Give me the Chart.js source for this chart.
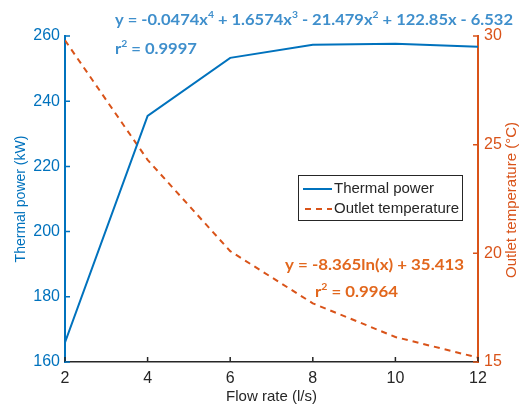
<!DOCTYPE html>
<html>
<head>
<meta charset="utf-8">
<script src="https://cdn.jsdelivr.net/npm/chart.js@4.4.0/dist/chart.umd.min.js"></script>
<style>
  html, body { margin: 0; padding: 0; background: #fff; }
  #wrap { width: 522px; height: 406px; }
</style>
</head>
<body>
<div id="wrap"><canvas id="chart"></canvas></div>
<script>
const flowRate = [2, 4, 6, 8, 10, 12];
const thermalPower = [166, 235.5, 253.3, 257.3, 257.6, 256.7];
const outletTemp = [29.8, 24.3, 20.1, 17.7, 16.15, 15.2];
const powerTicks = [160, 180, 200, 220, 240, 260];
const tempTicks = [15, 20, 25, 30];
const flowTicks = [2, 4, 6, 8, 10, 12];

const BLUE = '#0072BD';
const ORANGE = '#D95319';
const DARK = '#262626';

// fit equations shown on the figure: [text, isSuperscript]
const powerFit = [['y = -0.0474x'], ['4', 1], [' + 1.6574x'], ['3', 1], [' - 21.479x'], ['2', 1], [' + 122.85x - 6.532']];
const powerR2 = [['r'], ['2', 1], [' = 0.9997']];
const tempFit = [['y = -8.365ln(x) + 35.413']];
const tempR2 = [['r'], ['2', 1], [' = 0.9964']];

const toPoints = (xs, ys) => xs.map((x, i) => ({ x, y: ys[i] }));

// draws text with superscripts, squeezed/stretched to a given width
const drawRich = (ctx, parts, x, y, size, color, width) => {
  const bigFont = `bold ${size}px Lato, "Open Sans", sans-serif`;
  const smallFont = `bold ${Math.round(size * 0.62)}px Lato, "Open Sans", sans-serif`;
  let total = 0;
  parts.forEach(p => {
    ctx.font = p[1] ? smallFont : bigFont;
    total += ctx.measureText(p[0]).width;
  });
  ctx.save();
  ctx.translate(x, y);
  ctx.scale(width / total, 1);
  ctx.fillStyle = color;
  ctx.textBaseline = 'alphabetic';
  ctx.textAlign = 'left';
  let cx = 0;
  parts.forEach(p => {
    ctx.font = p[1] ? smallFont : bigFont;
    ctx.fillText(p[0], cx, p[1] ? -size * 0.42 : 0);
    cx += ctx.measureText(p[0]).width;
  });
  ctx.restore();
};

const extrasPlugin = {
  id: 'extras',
  afterDraw(chart) {
    const { ctx, chartArea: area, scales } = chart;
    const { x, y, y1 } = scales;

    // inward tick marks, matlab style
    ctx.save();
    ctx.lineWidth = 1.5;
    ctx.strokeStyle = DARK;
    ctx.beginPath();
    flowTicks.forEach(v => {
      const px = x.getPixelForValue(v);
      ctx.moveTo(px, area.bottom);
      ctx.lineTo(px, area.bottom - 5);
    });
    ctx.stroke();
    ctx.strokeStyle = BLUE;
    ctx.beginPath();
    powerTicks.forEach(v => {
      const py = y.getPixelForValue(v);
      ctx.moveTo(area.left, py);
      ctx.lineTo(area.left + 5, py);
    });
    ctx.stroke();
    ctx.strokeStyle = ORANGE;
    ctx.beginPath();
    tempTicks.forEach(v => {
      const py = y1.getPixelForValue(v);
      ctx.moveTo(area.right, py);
      ctx.lineTo(area.right - 5, py);
    });
    ctx.stroke();

    // right axis title, reads bottom to top
    ctx.translate(512, 200);
    ctx.rotate(-Math.PI / 2);
    ctx.font = '15px "Liberation Sans", Arial, sans-serif';
    ctx.fillStyle = ORANGE;
    ctx.textAlign = 'center';
    ctx.textBaseline = 'middle';
    ctx.fillText('Outlet temperature (°C)', 0, 0);
    ctx.restore();

    // legend box
    ctx.save();
    ctx.fillStyle = '#fff';
    ctx.strokeStyle = DARK;
    ctx.lineWidth = 1;
    ctx.fillRect(298.5, 175.5, 164, 45);
    ctx.strokeRect(298.5, 175.5, 164, 45);
    ctx.font = '15px "Liberation Sans", Arial, sans-serif';
    ctx.textBaseline = 'middle';
    ctx.textAlign = 'left';
    chart.data.datasets.forEach((ds, i) => {
      const ly = 189 + i * 20;
      ctx.strokeStyle = ds.borderColor;
      ctx.lineWidth = 2;
      ctx.setLineDash(ds.borderDash || []);
      ctx.beginPath();
      ctx.moveTo(i ? 305 : 303, ly);
      ctx.lineTo(332, ly);
      ctx.stroke();
      ctx.setLineDash([]);
      ctx.fillStyle = DARK;
      ctx.fillText(ds.label, 334, ly);
    });
    ctx.restore();

    // fit equations
    drawRich(ctx, powerFit, 115, 25, 16, '#3F8FCC', 398);
    drawRich(ctx, powerR2, 115, 54, 16, '#3F8FCC', 82);
    drawRich(ctx, tempFit, 285, 270, 16, '#E2671D', 179);
    drawRich(ctx, tempR2, 315, 297, 16, '#E2671D', 83);
  }
};

const tickFont = { family: '"Liberation Sans", Arial, sans-serif', size: 16 };

new Chart(document.getElementById('chart'), {
  type: 'line',
  data: {
    datasets: [
      {
        label: 'Thermal power',
        data: toPoints(flowRate, thermalPower),
        borderColor: BLUE,
        borderWidth: 2,
        pointRadius: 0,
        tension: 0,
        yAxisID: 'y'
      },
      {
        label: 'Outlet temperature',
        data: toPoints(flowRate, outletTemp),
        borderColor: ORANGE,
        borderWidth: 2,
        borderDash: [6, 5],
        pointRadius: 0,
        tension: 0,
        yAxisID: 'y1'
      }
    ]
  },
  options: {
    responsive: true,
    maintainAspectRatio: false,
    animation: false,
    layout: { padding: { top: 36, left: 0, right: 0, bottom: 0 } },
    plugins: {
      legend: { display: false },
      tooltip: { enabled: false }
    },
    scales: {
      x: {
        type: 'linear',
        min: 2,
        max: 12,
        grid: { display: false, drawTicks: false },
        border: { display: true, color: DARK, width: 1.5 },
        ticks: { stepSize: 2, color: DARK, font: tickFont, padding: 7, maxRotation: 0 },
        title: {
          display: true,
          text: 'Flow rate (l/s)',
          color: DARK,
          font: { family: '"Liberation Sans", Arial, sans-serif', size: 15 },
          padding: { top: 0, bottom: 0 }
        },
        afterFit: s => { s.height = 44; }
      },
      y: {
        position: 'left',
        min: 160,
        max: 260,
        grid: { display: false, drawTicks: false },
        border: { display: true, color: BLUE, width: 2 },
        ticks: { stepSize: 20, color: BLUE, font: tickFont, padding: 5 },
        title: {
          display: true,
          text: 'Thermal power (kW)',
          color: BLUE,
          font: { family: '"Liberation Sans", Arial, sans-serif', size: 14 },
          padding: { top: 13, bottom: 0 }
        },
        afterFit: s => { s.width = 65; }
      },
      y1: {
        position: 'right',
        min: 15,
        max: 30,
        grid: { display: false, drawTicks: false },
        border: { display: true, color: ORANGE, width: 2 },
        ticks: { stepSize: 5, color: ORANGE, font: tickFont, padding: 6 },
        afterFit: s => { s.width = 44; }
      }
    }
  },
  plugins: [extrasPlugin]
});
</script>
</body>
</html>
